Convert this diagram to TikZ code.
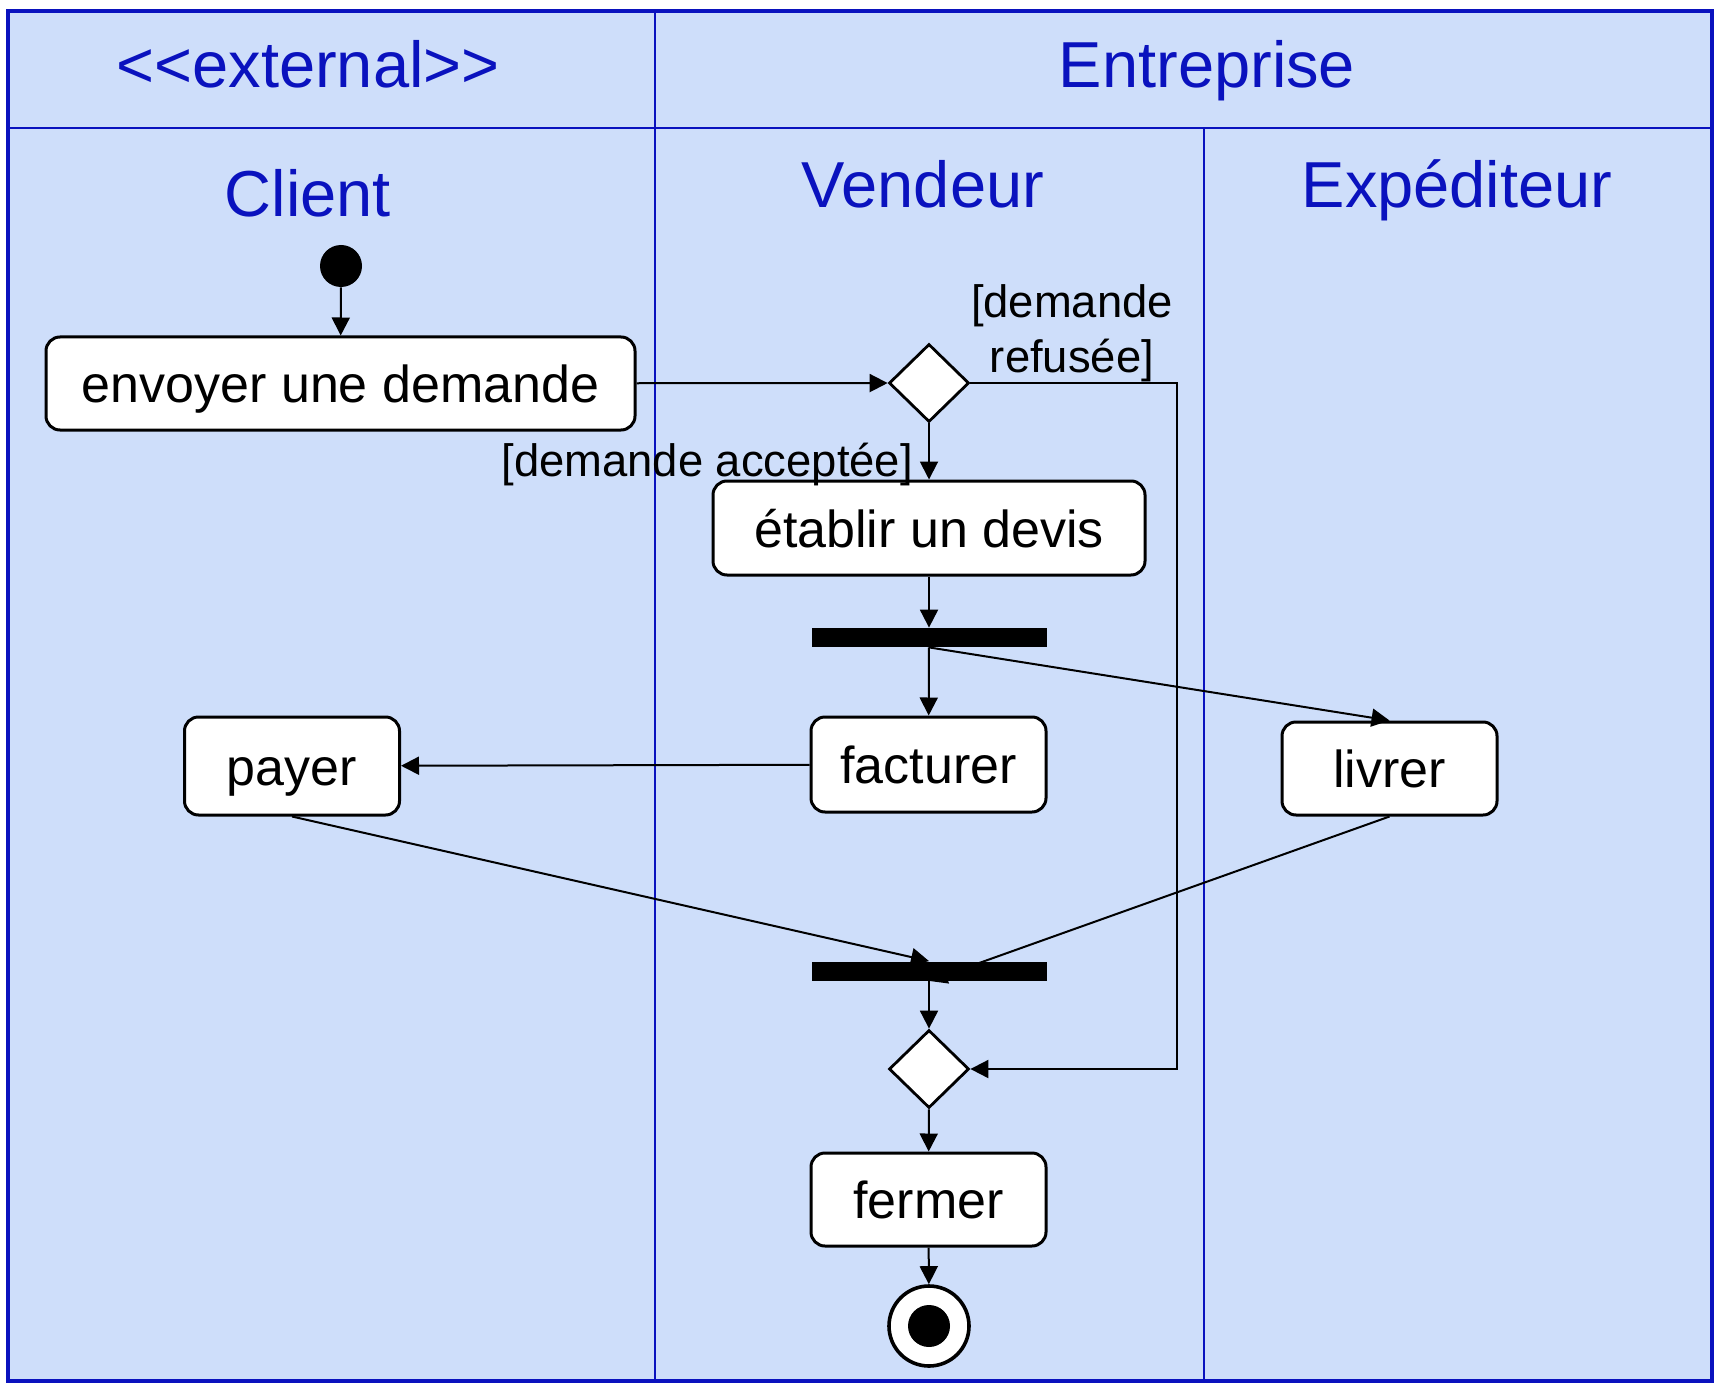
\documentclass[tikz,border=0pt]{standalone}
\usepackage{fontspec}
\setmainfont{Liberation Sans}
\usetikzlibrary{arrows.meta,shapes.geometric}
\definecolor{lanefill}{RGB}{206,222,250}
\definecolor{laneblue}{RGB}{10,18,190}
\tikzset{
  activity/.style={draw,fill=white,rounded corners=7pt,line width=1.5pt,inner sep=0pt,
    font=\fontsize{26}{31}\selectfont,text height=19pt,text depth=0pt},
  choice/.style={diamond,draw,fill=white,line width=1.4pt,inner sep=0pt,
    minimum width=40pt,minimum height=39pt},
  syncbar/.style={fill=black,inner sep=0pt,minimum width=117.5pt,minimum height=9.5pt},
  lanetitle/.style={text=laneblue,font=\fontsize{32.5}{39}\selectfont,anchor=base},
  guard/.style={font=\fontsize{22.7}{27.5}\selectfont},
  flow/.style={-{Triangle[length=9pt,width=9pt]},line width=1pt}
}
\begin{document}
\begin{tikzpicture}[x=0.5pt,y=-0.5pt]
    \useasboundingbox (0,0) rectangle (1722,1390);
    % couloirs
    \draw[laneblue,line width=1.6pt,fill=lanefill] (8,11) rectangle (1712,1381);
    \draw[laneblue,line width=1pt] (8,128) -- (1712,128) (655,11) -- (655,1381)
        (1204,128) -- (1204,1381);
    \node[lanetitle] (ext) at (308,88) {<\kern0pt<external>\kern0pt>};
    \node[lanetitle] (entreprise) at (1207,88) {Entreprise};
    \node[lanetitle] (client) at (308,217) {Client};
    \node[lanetitle] (vendeur) at (923,208) {Vendeur};
    \node[lanetitle] (expediteur) at (1457,208) {Expéditeur};
    % activites
    \node[circle,fill=black,inner sep=0pt,minimum size=21pt] (debut) at (341,266) {};
    \node[activity,minimum width=294.5pt,minimum height=46.5pt] (envoyer) at (340.5,383.5) {envoyer une demande};
    \node[choice] (test) at (929,383) {};
    \node[activity,minimum width=216pt,minimum height=47pt] (devis) at (929,528) {établir un devis};
    \node[syncbar] (fourche) at (929,637.5) {};
    \node[activity,minimum width=117.5pt,minimum height=47.5pt] (facturer) at (928.5,764.5) {facturer};
    \node[activity,minimum width=107.5pt,minimum height=49pt] (payer) at (292,766) {payer};
    \node[activity,minimum width=107.5pt,minimum height=46.5pt] (livrer) at (1389.5,768.5) {livrer};
    \node[syncbar] (jonction) at (929,971) {};
    \node[choice] (fusion) at (929,1069) {};
    \node[activity,minimum width=117.5pt,minimum height=46.5pt] (fermer) at (928.5,1199.5) {fermer};
    \node[circle,draw,fill=white,line width=1.8pt,inner sep=0pt,minimum size=40pt,
        path picture={\fill[black] (path picture bounding box.center) circle (10.5pt);}] (fin) at (929,1326) {};
    % gardes
    \node[guard,anchor=base east] (accepte) at (920,476) {[demande acceptée]};
    \node[guard,align=center] (refuse) at (1072,333) {[demande\\refusée]};
    % flots
    \coordinate (coin) at (1177,383);
    \path[flow] (debut) edge (envoyer)
        (envoyer) edge (test)
        (test) edge (devis)
        (devis) edge (fourche)
        (fourche) edge (facturer)
        (fourche.south) edge (livrer.north)
        (facturer) edge (payer)
        (payer.south) edge (jonction.north)
        (livrer.south) edge (jonction.south)
        (jonction) edge (fusion)
        (fusion) edge (fermer)
        (fermer) edge (fin);
    \draw[flow] (test.east) -- (coin) |- (fusion.east);
\end{tikzpicture}
\end{document}
